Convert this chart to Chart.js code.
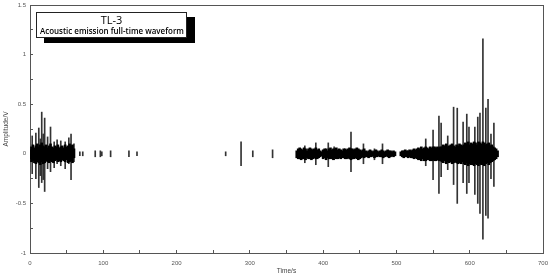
<!DOCTYPE html>
<html>
<head>
<meta charset="utf-8">
<script src="https://cdn.jsdelivr.net/npm/chart.js@4"></script>
<style>
html,body{margin:0;padding:0;background:#fff;}
#wrap{position:relative;width:550px;height:278px;}
#titlebox{position:absolute;left:36px;top:12px;width:151px;height:26px;box-sizing:border-box;border:1px solid #222;background:#fff;box-shadow:8px 5px 0 #000;text-align:center;color:#000;overflow:hidden;}
#t1{font-family:"Open Sans",sans-serif;font-size:11px;line-height:11px;margin-top:1px;}
#t2{font-family:"Open Sans",sans-serif;font-weight:600;font-size:9.5px;line-height:11px;margin-top:0px;white-space:nowrap;}
#t2 span{display:inline-block;transform-origin:center center;}
</style>
</head>
<body>
<div id="wrap">
<canvas id="c" width="550" height="278"></canvas>
<div id="titlebox"><div id="t1">TL-3</div><div id="t2"><span id="t2s">Acoustic emission full-time waveform</span></div></div>
</div>
<script>
// Dense background band segments (time in s, upper/lower envelope in V)
const band1T = [0,2,4,6,8,10,12,14,16,18,20,22,24,26,28,30,32,34,36,38,40,42,44,46,48,50,52,54,56,58,60];
const band1Hi = [0.04,0.07,0.09,0.06,0.08,0.1,0.07,0.09,0.11,0.08,0.07,0.09,0.06,0.08,0.1,0.07,0.06,0.08,0.07,0.09,0.06,0.07,0.08,0.06,0.09,0.07,0.08,0.1,0.08,0.09,0.05];
const band1Lo = [-0.05,-0.08,-0.07,-0.09,-0.1,-0.08,-0.09,-0.11,-0.08,-0.1,-0.09,-0.07,-0.08,-0.09,-0.07,-0.08,-0.09,-0.07,-0.06,-0.08,-0.07,-0.08,-0.06,-0.07,-0.08,-0.06,-0.09,-0.08,-0.07,-0.09,-0.04];

const band2T = [364,366,368,370,372,374,376,378,380,382,384,386,388,390,392,394,396,398,
  400,402,404,406,408,410,412,414,416,418,420,422,424,426,428,430,432,434,436,438,
  440,442,444,446,448,450,452,454,456,458,460,462,464,466,468,470,472,474,476,478,
  480,482,484,486,488,490,492,494,496,498];
const band2Hi = [0.03,0.05,0.06,0.05,0.04,0.06,0.05,0.03,0.05,0.06,0.05,0.04,0.05,0.06,0.04,0.05,0.03,0.02,
  0.04,0.05,0.05,0.03,0.05,0.06,0.04,0.05,0.05,0.06,0.04,0.05,0.04,0.03,0.05,0.05,0.04,0.05,0.06,0.05,
  0.05,0.04,0.05,0.06,0.05,0.04,0.03,0.04,0.05,0.03,0.02,0.03,0.04,0.03,0.02,0.03,0.04,0.03,0.02,0.03,
  0.04,0.03,0.02,0.03,0.04,0.03,0.03,0.02,0.03,0.02];
const band2Lo = [-0.04,-0.05,-0.05,-0.06,-0.05,-0.05,-0.06,-0.04,-0.05,-0.05,-0.06,-0.05,-0.04,-0.05,-0.05,-0.04,-0.03,-0.02,
  -0.05,-0.04,-0.06,-0.04,-0.05,-0.05,-0.05,-0.06,-0.04,-0.05,-0.05,-0.04,-0.05,-0.04,-0.04,-0.05,-0.05,-0.04,-0.05,-0.06,
  -0.05,-0.05,-0.04,-0.05,-0.06,-0.05,-0.04,-0.03,-0.04,-0.03,-0.03,-0.04,-0.03,-0.03,-0.02,-0.04,-0.03,-0.03,-0.02,-0.03,
  -0.03,-0.04,-0.03,-0.02,-0.03,-0.04,-0.03,-0.02,-0.03,-0.02];

const band3T = [506,508,510,512,514,516,518,520,522,524,526,
  528,530,532,534,536,538,540,542,544,546,548,550,552,554,556,558,560,
  562,564,566,568,570,572,574,576,578,580,582,584,586,588,590,
  592,594,596,598,600,602,604,606,608,610,612,614,616,618,620,622,624,626,628,630,
  632,634,636,638];
const band3Hi = [0.02,0.03,0.03,0.04,0.03,0.03,0.04,0.03,0.04,0.05,0.04,
  0.05,0.06,0.05,0.07,0.05,0.06,0.07,0.06,0.05,0.07,0.06,0.07,0.07,0.06,0.07,0.06,0.07,
  0.07,0.09,0.08,0.1,0.07,0.08,0.09,0.1,0.08,0.07,0.09,0.08,0.1,0.09,0.08,
  0.09,0.11,0.1,0.12,0.09,0.11,0.1,0.12,0.11,0.09,0.12,0.11,0.1,0.12,0.11,0.09,0.1,0.11,0.08,0.09,
  0.07,0.06,0.05,0.03];
const band3Lo = [-0.02,-0.03,-0.04,-0.03,-0.03,-0.04,-0.03,-0.04,-0.04,-0.05,-0.04,
  -0.05,-0.06,-0.06,-0.07,-0.05,-0.07,-0.07,-0.06,-0.06,-0.07,-0.07,-0.06,-0.07,-0.07,-0.06,-0.07,-0.07,
  -0.08,-0.09,-0.07,-0.1,-0.08,-0.09,-0.08,-0.1,-0.09,-0.08,-0.09,-0.1,-0.09,-0.1,-0.08,
  -0.1,-0.11,-0.09,-0.12,-0.1,-0.11,-0.11,-0.12,-0.1,-0.11,-0.12,-0.1,-0.11,-0.11,-0.12,-0.1,-0.09,-0.11,-0.09,-0.08,
  -0.07,-0.06,-0.05,-0.03];

// Individual emission spikes (time in s, positive peak, negative peak in V)
const spikeT  = [3,8,12,14,16,18,20,24,28,33,37,42,48,53,56,60,
  68,72,89,96,98,110,135,146,267,288,304,331,
  375,390,407,415,438,455,470,481,
  540,550,558,561,570,578,583,591,596,599,607,611,614,618,622,625,629,633];
const spikeHi = [0.18,0.21,0.26,0.15,0.42,0.2,0.36,0.17,0.27,0.12,0.14,0.13,0.12,0.16,0.2,0.1,
  0.02,0.02,0.03,0.03,0.02,0.03,0.03,0.02,0.02,0.12,0.03,0.04,
  0.08,0.11,0.11,0.07,0.22,0.1,0.05,0.1,
  0.15,0.24,0.38,0.31,0.18,0.47,0.46,0.32,0.4,0.27,0.27,0.37,0.41,1.16,0.46,0.55,0.2,0.31];
const spikeLo = [-0.2,-0.25,-0.34,-0.22,-0.29,-0.26,-0.38,-0.15,-0.18,-0.14,-0.1,-0.12,-0.15,-0.1,-0.26,-0.08,
  -0.02,-0.02,-0.03,-0.03,-0.02,-0.03,-0.03,-0.02,-0.02,-0.12,-0.03,-0.04,
  -0.09,-0.11,-0.13,-0.06,-0.18,-0.1,-0.06,-0.1,
  -0.12,-0.26,-0.4,-0.23,-0.16,-0.31,-0.5,-0.29,-0.4,-0.29,-0.41,-0.5,-0.6,-0.86,-0.62,-0.65,-0.25,-0.33];

// Tick positions (major ticks carry labels, minor ticks sit halfway)
const xTicks = [0,50,100,150,200,250,300,350,400,450,500,550,600,650,700];
const xLabels = ['0','','100','','200','','300','','400','','500','','600','','700'];
const yTicks = [-1,-0.75,-0.5,-0.25,0,0.25,0.5,0.75,1,1.25,1.5];
const yLabels = ['-1','','-0.5','','0','','0.5','','1','','1.5'];

function pairs(T, H, L){ return T.map((t,i)=>({x:t, y:[L[i], H[i]]})); }
const bandData = pairs(band1T,band1Hi,band1Lo).concat(pairs(band2T,band2Hi,band2Lo), pairs(band3T,band3Hi,band3Lo));
const spikeData = pairs(spikeT, spikeHi, spikeLo);

function noOverflow(s){ s.paddingLeft = 0; s.paddingRight = 0; s.paddingTop = 0; s.paddingBottom = 0; }

const AX = '#555';
const chart = new Chart(document.getElementById('c'), {
  type:'bar',
  data:{datasets:[
    {label:'band', data:bandData, backgroundColor:'#000', barThickness:2, grouped:false},
    {label:'spikes', data:spikeData, backgroundColor:'#333', barThickness:1, grouped:false}
  ]},
  options:{
    responsive:false, animation:false, devicePixelRatio:1,
    layout:{padding:{top:5,right:7,left:0,bottom:0}},
    plugins:{legend:{display:false}, tooltip:{enabled:false}},
    scales:{
      x:{type:'linear', position:'bottom', min:0, max:700, offset:false,
        afterBuildTicks(s){ s.ticks = xTicks.map(v=>({value:v})); },
        afterFit(s){ s.height = 25; noOverflow(s); },
        grid:{drawOnChartArea:false, offset:false, tickLength:-3, color:AX},
        border:{display:true, color:AX},
        ticks:{font:{size:6, family:'Liberation Sans'}, color:'#555', padding:10, maxRotation:0, autoSkip:false,
          callback:(v,i)=>xLabels[i]},
        title:{display:true, text:'Time/s', font:{size:6.5, family:'Liberation Sans'}, color:'#444', padding:{top:0,bottom:3}}
      },
      y:{type:'linear', position:'left', min:-1, max:1.5,
        afterBuildTicks(s){ s.ticks = yTicks.map(v=>({value:v})); },
        afterFit(s){ s.width = 30; noOverflow(s); },
        grid:{drawOnChartArea:false, offset:false, tickLength:-3, color:AX},
        border:{display:true, color:AX},
        ticks:{font:{size:6, family:'Liberation Sans'}, color:'#555', padding:7, autoSkip:false,
          callback:(v,i)=>yLabels[i]},
        title:{display:true, text:'Amplitude/V', font:{size:6.5, family:'Liberation Sans'}, color:'#444', padding:{top:2,bottom:0}}
      },
      xTop:{type:'linear', position:'top', min:0, max:700,
        afterFit(s){ s.height = 0; noOverflow(s); },
        grid:{display:false}, border:{display:true, color:AX}, ticks:{display:false}
      },
      yRight:{type:'linear', position:'right', min:-1, max:1.5,
        afterFit(s){ s.width = 0; noOverflow(s); },
        grid:{display:false}, border:{display:true, color:AX}, ticks:{display:false}
      }
    }
  }
});

// fit the subtitle into the box width
(function(){
  const s = document.getElementById('t2s');
  const w = s.getBoundingClientRect().width;
  const f = 144 / w;
  s.style.transform = 'scaleX(' + f + ')';
  s.style.marginLeft = s.style.marginRight = (-(w - 144)/2) + 'px';
})();
</script>
</body>
</html>
